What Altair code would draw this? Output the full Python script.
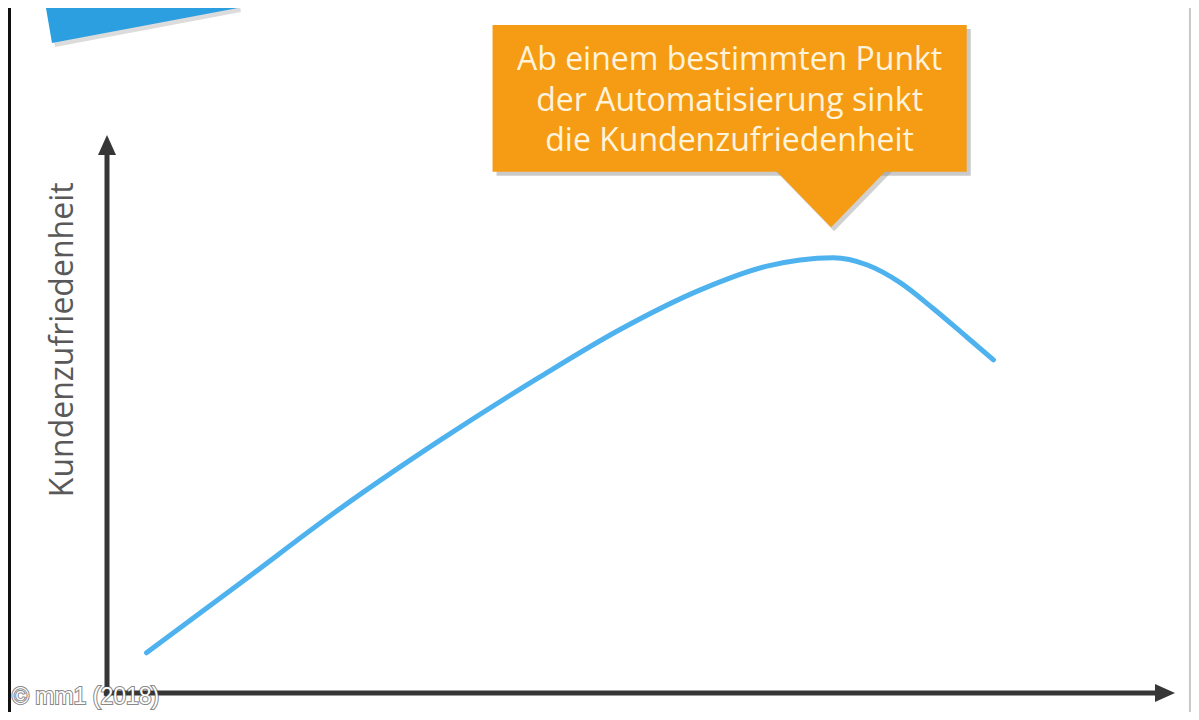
import altair as alt
import pandas as pd

# Curve: degree of automation (x) vs customer satisfaction (y); 0..100 = axis arrow tips
auto_grad = [3.7, 12.5, 21.8, 31.2, 40.5, 48.0, 55.5, 61.8, 64.9, 68.0, 71.2, 74.3, 77.3, 80.5, 83.0]
zufriedenheit = [7.2, 19.7, 33.0, 45.3, 56.6, 65.1, 72.2, 76.5, 77.6, 78.0, 76.7, 73.5, 69.0, 63.8, 59.7]

callout_lines = ["Ab einem bestimmten Punkt", "der Automatisierung sinkt", "die Kundenzufriedenheit"]
y_title = "Kundenzufriedenheit"
credit = "© mm1 (2018)"

# callout geometry in data units
callout_box = {"x": 36.1, "x2": 80.5, "y": 93.4, "y2": 119.7}
callout_tip = {"x": 67.8, "y": 88.4}
callout_text_y = [113.4, 106.1, 98.9]
callout_text_x = 58.3

X_DOMAIN = [-9.27, 101.5]
Y_DOMAIN = [-3.41, 122.76]
W, H = 1183, 704
XU = W / (X_DOMAIN[1] - X_DOMAIN[0])  # px per x unit
YU = H / (Y_DOMAIN[1] - Y_DOMAIN[0])  # px per y unit

xs = alt.Scale(domain=X_DOMAIN, nice=False, zero=False)
ys = alt.Scale(domain=Y_DOMAIN, nice=False, zero=False)
X = lambda f="x": alt.X(f"{f}:Q", scale=xs, axis=None)
Y = lambda f="y": alt.Y(f"{f}:Q", scale=ys, axis=None)

AXIS_COLOR = "#363636"
LINE_COLOR = "#4DB2EE"
ORANGE = "#F59C14"
BLUE_BOX = "#2C9FE0"

curve_df = pd.DataFrame({"x": auto_grad, "y": zufriedenheit})
curve = alt.Chart(curve_df).mark_line(
    color=LINE_COLOR, strokeWidth=5, interpolate="monotone", strokeCap="round"
).encode(x=X(), y=Y())

# axes
yaxis = alt.Chart(pd.DataFrame({"x": [0], "y": [-0.6], "y2": [98.5]})).mark_rule(
    color=AXIS_COLOR, strokeWidth=5
).encode(x=X(), y=Y(), y2="y2:Q")
xaxis = alt.Chart(pd.DataFrame({"x": [-0.3], "x2": [99.3], "y": [0]})).mark_rule(
    color=AXIS_COLOR, strokeWidth=5
).encode(x=X(), x2="x2:Q", y=Y())
arrow_up = alt.Chart(pd.DataFrame({"x": [0], "y": [100 - 10 / YU]})).mark_point(
    shape="M0,-1L0.9,1L-0.9,1Z", size=400, filled=True, color=AXIS_COLOR, opacity=1, strokeWidth=0
).encode(x=X(), y=Y())
arrow_right = alt.Chart(pd.DataFrame({"x": [100 - 10 / XU], "y": [0]})).mark_point(
    shape="M1,0L-1,-0.9L-1,0.9Z", size=400, filled=True, color=AXIS_COLOR, opacity=1, strokeWidth=0
).encode(x=X(), y=Y())

# y title
ytitle = alt.Chart(pd.DataFrame({"x": [-4.1], "y": [63.3], "t": [y_title]})).mark_text(
    angle=270, font="Open Sans", fontSize=32, color="#595959", baseline="middle", align="center"
).encode(x=X(), y=Y(), text="t:N")

# callout
box_df = pd.DataFrame([callout_box])
box_shadow = alt.Chart(box_df).mark_rect(
    color="#8a8a8a", opacity=0.45, xOffset=4, yOffset=4, x2Offset=4, y2Offset=4
).encode(x=X(), x2="x2:Q", y=Y(), y2="y2:Q")
box = alt.Chart(box_df).mark_rect(color=ORANGE).encode(x=X(), x2="x2:Q", y=Y(), y2="y2:Q")
tip_df = pd.DataFrame([callout_tip])
tip_shape = "M-1,-0.56L1,-0.56L0,0.47Z"
tip_shadow = alt.Chart(tip_df).mark_point(
    shape=tip_shape, size=117 ** 2, filled=True, color="#8a8a8a", opacity=0.4, strokeWidth=0,
    xOffset=3, yOffset=4
).encode(x=X(), y=Y())
tip = alt.Chart(tip_df).mark_point(
    shape=tip_shape, size=117 ** 2, filled=True, color=ORANGE, opacity=1, strokeWidth=0
).encode(x=X(), y=Y())
text_df = pd.DataFrame({"x": [callout_text_x] * 3, "y": callout_text_y, "t": callout_lines})
callout_text = alt.Chart(text_df).mark_text(
    font="Open Sans", fontSize=32, color="#FFF3DC", align="center", baseline="middle"
).encode(x=X(), y=Y(), text="t:N")

# blue box at top left (partially cut off)
blue_shape = "M-0.89,0.39L0.97,0.04L0.87,-0.54L-0.99,-0.19Z"
blue_df = pd.DataFrame({"x": [(141 - 107) / XU], "y": [(693 - 4) / YU]})
blue_shadow = alt.Chart(blue_df).mark_point(
    shape=blue_shape, size=200 ** 2, filled=True, color="#9a9a9a", opacity=0.35, strokeWidth=0,
    xOffset=3, yOffset=4
).encode(x=X(), y=Y())
blue = alt.Chart(blue_df).mark_point(
    shape=blue_shape, size=200 ** 2, filled=True, color=BLUE_BOX, opacity=1, strokeWidth=0
).encode(x=X(), y=Y())

# frame edges
left_edge = alt.Chart(pd.DataFrame({"x": [X_DOMAIN[0]]})).mark_rule(
    color="#111111", strokeWidth=6
).encode(x=X(), y=alt.value(0), y2=alt.value(H))
right_edge = alt.Chart(pd.DataFrame({"x": [X_DOMAIN[1] - 0.1]})).mark_rule(
    color="#c8c8c8", strokeWidth=2
).encode(x=X(), y=alt.value(0), y2=alt.value(H))

# credit
credit_df = pd.DataFrame({"x": [-8.9], "y": [-0.72], "t": [credit]})
credit_outline = alt.Chart(credit_df).mark_text(
    font="Liberation Sans", fontSize=23, color="#444444", stroke="#444444", strokeWidth=2,
    strokeOpacity=0.8, opacity=0.8, align="left", baseline="middle"
).encode(x=X(), y=Y(), text="t:N")
credit_fill = alt.Chart(credit_df).mark_text(
    font="Liberation Sans", fontSize=23, color="#ffffff", align="left", baseline="middle"
).encode(x=X(), y=Y(), text="t:N")

chart = alt.layer(
    blue_shadow, blue, left_edge, right_edge,
    yaxis, xaxis, arrow_up, arrow_right, ytitle, curve,
    box_shadow, tip_shadow, box, tip, callout_text,
    credit_outline, credit_fill,
).properties(
    width=W, height=H, padding=0, autosize=alt.AutoSizeParams(type="none"), background="white"
).configure_view(stroke=None)

chart.save("out.html", embed_options={"renderer": "svg", "actions": False})
